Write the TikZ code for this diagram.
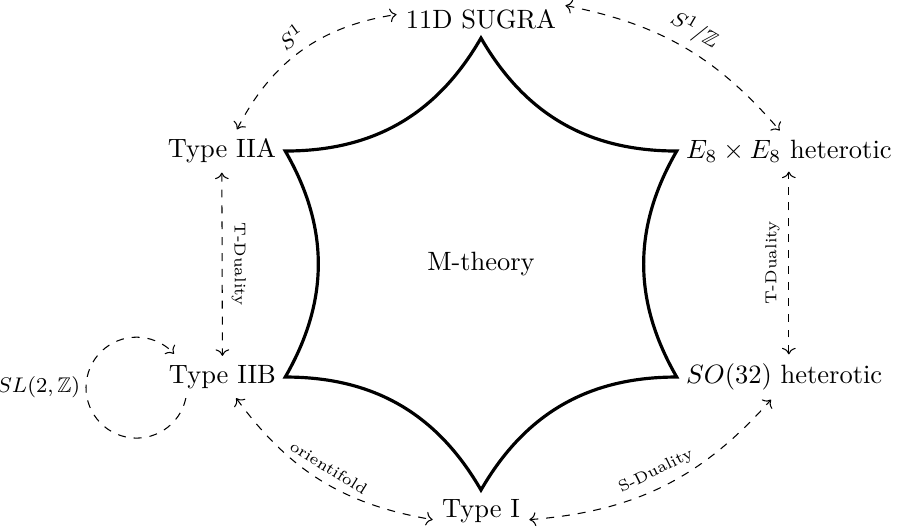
\documentclass[tikz,border=0pt]{standalone}
\usepackage{amssymb}
\usetikzlibrary{arrows.meta,positioning,calc}
\tikzset{
  mth/star/.style={very thick},
  mth/dual/.style={dashed,<->},
  mth/lbl/.style={font=\fontsize{6}{7}\selectfont, sloped, above},
  mth/mlbl/.style={font=\footnotesize, sloped, above, inner sep=3pt}
}

\begin{document}
\begin{tikzpicture}
  \useasboundingbox (-6.385,-3.557) rectangle (5.642,3.505);
  % corners of the star
  \foreach \i in {0,...,5} \coordinate (v\i) at (90-60*\i:3);
  \draw[mth/star] (v0) to[out=-60,in=180] (v1) to[out=-120,in=120] (v2)
    to[out=180,in=60] (v3) to[out=120,in=0] (v4) to[out=60,in=-60] (v5)
    to[out=0,in=-120] (v0) -- cycle;
  \node (m) at (0,0) {M-theory};
  \node[above] (sugra) at (v0) {11D SUGRA};
  \node[right] (e8) at (v1) {$E_8\times E_8$ heterotic};
  \node[right] (so) at (v2) {$SO(32)$ heterotic};
  \node[below] (ti) at (v3) {Type I};
  \node[left] (iib) at (v4) {Type IIB};
  \node[left] (iia) at (v5) {Type IIA};
  % dualities
  \draw[mth/dual] (iia.55) to[bend left=27] node[mth/mlbl] {$S^1$} (sugra.177);
  \draw[mth/dual] (sugra.9) to[bend left=19] node[mth/mlbl] {$S^1/\mathbb{Z}$} (e8.114);
  \draw[mth/dual] (iia.south) -- node[mth/lbl] {T-Duality} (iib.north);
  \draw[mth/dual] (e8.south |- so.north) -- node[mth/lbl] {T-Duality} (e8.south);
  \draw[mth/dual] (iib.-57) to[bend right=22] node[mth/lbl] {orientifold} (ti.-170);
  \draw[mth/dual] (ti.-10) to[bend right=22] node[mth/lbl] {S-Duality} (so.-120);
  \draw[dashed,->] (iib.-150) arc[start angle=-12,end angle=-318,radius=0.67]
    node[pos=0.55,left,font=\footnotesize,inner sep=2pt] {$SL(2,\mathbb{Z})$};
\end{tikzpicture}
\end{document}
